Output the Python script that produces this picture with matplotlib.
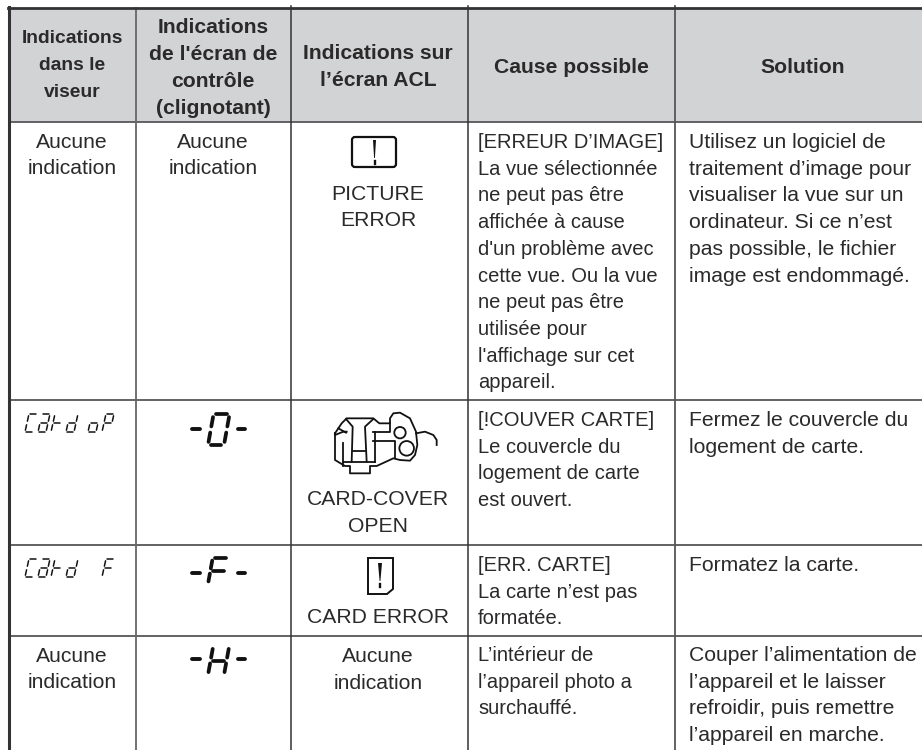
import matplotlib
matplotlib.use("Agg")
import matplotlib.pyplot as plt
from matplotlib.patches import Circle, FancyBboxPatch, Polygon, Rectangle

plt.rcParams["font.family"] = ["Liberation Sans", "DejaVu Sans"]

# Table text
headers = [
    ["Indications", "dans le", "viseur"],
    ["Indications", "de l'écran de", "contrôle", "(clignotant)"],
    ["Indications sur", "l’écran ACL"],
    ["Cause possible"],
    ["Solution"],
]
no_indication = ["Aucune", "indication"]
lcd_labels = [["PICTURE", "ERROR"], ["CARD-COVER", "OPEN"], ["CARD ERROR"], no_indication]
causes = [
    ["[ERREUR D’IMAGE]", "La vue sélectionnée", "ne peut pas être", "affichée à cause",
     "d'un problème avec", "cette vue. Ou la vue", "ne peut pas être", "utilisée pour",
     "l'affichage sur cet", "appareil."],
    ["[!COUVER CARTE]", "Le couvercle du", "logement de carte", "est ouvert."],
    ["[ERR. CARTE]", "La carte n’est pas", "formatée."],
    ["L’intérieur de", "l’appareil photo a", "surchauffé."],
]
solutions = [
    ["Utilisez un logiciel de", "traitement d’image pour", "visualiser la vue sur un",
     "ordinateur. Si ce n’est", "pas possible, le fichier", "image est endommagé."],
    ["Fermez le couvercle du", "logement de carte."],
    ["Formatez la carte."],
    ["Couper l’alimentation de", "l’appareil et le laisser", "refroidir, puis remettre",
     "l’appareil en marche."],
]
viewfinder_words = [["C", "a", "r", "d", " ", "o", "P"], ["C", "a", "r", "d", " ", " ", "F"]]
panel_chars = ["0", "F", "H"]

# Layout in pixels
col_x = [9, 136, 291, 467.5, 675]
row_y = [8, 122, 400, 545, 636]
centers = [72, 213, 378, 571.5, 803]
TXT = "#2b292a"
LINE = "#565658"
INK = "#111111"
FS = 15.2

# Seven segment patterns
segments = {
    "0": "abcdef", "F": "aefg", "H": "bcefg", "C": "adef", "a": "abcdeg",
    "r": "efg", "d": "bcdeg", "o": "cdeg", "P": "abefg", " ": "",
}
seg_ends = {
    "a": ((0.16, 1), (0.84, 1)), "b": ((1, 0.9), (1, 0.6)), "c": ((1, 0.4), (1, 0.1)),
    "d": ((0.16, 0), (0.84, 0)), "e": ((0, 0.4), (0, 0.1)), "f": ((0, 0.9), (0, 0.6)),
    "g": ((0.16, 0.5), (0.84, 0.5)),
}


def draw_segment_char(ax, ch, x, y_bot, w, h, lw, slant=0.22):
    for s in segments[ch]:
        (x0, y0), (x1, y1) = seg_ends[s]
        ax.plot([x + x0 * w + y0 * h * slant, x + x1 * w + y1 * h * slant],
                [y_bot - y0 * h, y_bot - y1 * h],
                color=INK, lw=lw, solid_capstyle="round")


def text_lines(ax, lines, x, y, ha="center", step=26.7, size=FS, **kw):
    for i, line in enumerate(lines):
        ax.text(x, y + i * step, line, ha=ha, va="baseline", color=TXT, fontsize=size, **kw)


def exclamation(ax, x, y_top, y_bar, y_dot, half):
    # tapered bar and a dot
    ax.add_patch(Polygon([(x - half, y_top), (x + half, y_top), (x + 0.4, y_bar), (x - 0.4, y_bar)],
                         closed=True, fc=INK, ec="none"))
    ax.plot([x, x], [y_dot, y_dot + 3], color=INK, lw=1.7)


fig = plt.figure(figsize=(9.22, 7.5), dpi=100)
ax = fig.add_axes([0, 0, 1, 1])
ax.set_xlim(0, 922)
ax.set_ylim(750, 0)
ax.axis("off")

# Header band and grid
ax.add_patch(Rectangle((col_x[0], row_y[0]), 922 - col_x[0], row_y[1] - row_y[0], fc="#d1d3d4", ec="none"))
for y in row_y[1:]:
    ax.plot([col_x[0], 922], [y, y], color=LINE, lw=1.3)
ax.plot([136, 136], [row_y[0], 750], color="#666668", lw=1.3)
ax.plot([291, 291], [6, 750], color="#333335", lw=1.1)
ax.plot([467.5, 467.5], [6, 750], color="#333335", lw=1.1)
ax.plot([675, 675], [6, 750], color=LINE, lw=1.3)
ax.plot([8, 922], [8, 8], color="#333335", lw=2.0)
ax.plot([9, 9], [7, 750], color="#333335", lw=2.2)

# Headers
header_tops = [43.3, 33, 59, 73, 73]
header_sizes = [13.9, FS, FS, FS, FS]
for c, lines, y, size in zip(centers, headers, header_tops, header_sizes):
    text_lines(ax, lines, c, y, step=27, size=size, fontweight="bold")

# Columns one and two, first rows
text_lines(ax, no_indication, centers[0], 148, step=26)
text_lines(ax, no_indication, centers[1], 148, step=26)
text_lines(ax, no_indication, centers[0], 662, step=26)

# Viewfinder segment text
char_x = [25, 38, 51, 66, 0, 88, 102]
for word, y_bot in zip(viewfinder_words, [432, 577]):
    for ch, x in zip(word, char_x):
        draw_segment_char(ax, ch, x, y_bot, 8, 18, 1.1, slant=0.22)

# Panel segment text with dashes
for ch, dash_y, y_bot, h in zip(panel_chars, [429, 573, 659], [445, 584, 675], [31, 26, 29]):
    draw_segment_char(ax, ch, 208, y_bot, 16, h, 2.7, slant=0.18)
    ax.plot([192, 200], [dash_y, dash_y], color=INK, lw=2.8, solid_capstyle="round")
    ax.plot([238, 245], [dash_y, dash_y], color=INK, lw=2.8, solid_capstyle="round")

# Column three labels
for lines, y in zip(lcd_labels, [199.5, 505, 623, 662]):
    text_lines(ax, lines, centers[2], y, step=26.7)

# Picture error icon
ax.add_patch(FancyBboxPatch((352, 137), 44, 30, boxstyle="round,pad=0,rounding_size=3",
                            fc="none", ec=INK, lw=1.6, mutation_aspect=1))
exclamation(ax, 374.5, 140, 158, 161, 1.5)

# Card error icon
ax.add_patch(Polygon([(368, 558), (393, 558), (393, 589), (387, 594), (368, 594)],
                     closed=True, fc="none", ec=INK, lw=1.4))
exclamation(ax, 380, 563, 581, 584, 2)


# Camera icon, drawn in zoomed crop coordinates
def cam(points):
    xs = [310 + p[0] / 3 for p in points]
    ys = [390 + p[1] / 3 for p in points]
    ax.plot(xs, ys, color=INK, lw=1.3, solid_joinstyle="round")


cam([(75, 130), (95, 100), (110, 85), (190, 85), (208, 100), (240, 100), (240, 85), (250, 70),
     (270, 68), (300, 85), (318, 125), (322, 165), (315, 195), (300, 212), (270, 210),
     (250, 205), (200, 228), (180, 228), (180, 250), (120, 250), (120, 228), (105, 228),
     (75, 210), (75, 130)])
cam([(108, 87), (128, 110), (125, 215)])
cam([(190, 87), (165, 110), (170, 215)])
cam([(130, 182), (165, 182)])
cam([(100, 160), (100, 228)])
cam([(100, 215), (195, 215)])
cam([(75, 135), (100, 125), (110, 125)])
cam([(85, 115), (108, 128)])
cam([(190, 125), (240, 125), (240, 100)])
cam([(190, 152), (255, 152), (255, 205)])
cam([(195, 125), (195, 215)])
cam([(318, 130), (345, 125), (370, 135), (380, 150), (380, 165)])
ax.add_patch(Circle((310 + 270 / 3, 390 + 128 / 3), 5.7, fc="white", ec=INK, lw=1.3))
ax.add_patch(Circle((310 + 290 / 3, 390 + 175 / 3), 7.3, fc="white", ec=INK, lw=1.3))

# Cause and solution columns
for lines, y in zip(causes, [148, 426, 571, 661]):
    text_lines(ax, lines, 478, y, ha="left", size=14.5)
for lines, y in zip(solutions, [148, 426, 571, 661]):
    text_lines(ax, lines, 689, y, ha="left")

fig.savefig("out.png", dpi=100)
